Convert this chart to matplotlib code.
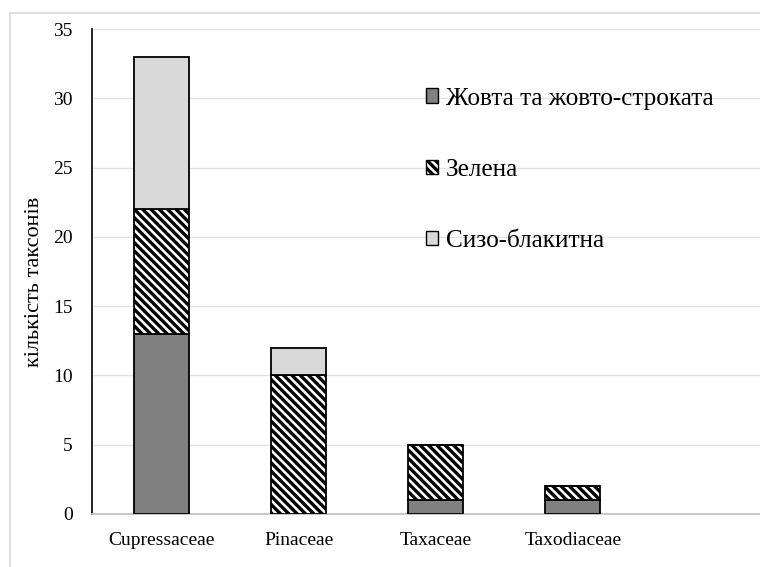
import numpy as np
import matplotlib
matplotlib.use("Agg")
import matplotlib.pyplot as plt
from matplotlib.patches import Rectangle

plt.rcParams['font.family'] = ['Liberation Serif', 'DejaVu Serif']
plt.rcParams['hatch.linewidth'] = 2.4

# дані
families = ["Cupressaceae", "Pinaceae", "Taxaceae", "Taxodiaceae"]
yellow = [13, 0, 1, 1]
green = [9, 10, 4, 1]
blue = [11, 2, 0, 0]
labels = ["Жовта та жовто-строката", "Зелена", "Сизо-блакитна"]

W, H = 760, 567
fig = plt.figure(figsize=(W / 100, H / 100), dpi=100)

# рамка області діаграми
fig.patches.append(Rectangle((10 / W, -0.1), 1.2, 1 - 13 / H + 0.1,
                             transform=fig.transFigure, fill=False,
                             edgecolor='#d9d9d9', linewidth=1.2))

left, bottom, top = 92, 567 - 514, 567 - 29
ax = fig.add_axes([left / W, bottom / H, (W - left) / W, (top - bottom) / H])

x = np.arange(len(families))
bw = 0.4
yellow_a = np.array(yellow)
green_a = np.array(green)
blue_a = np.array(blue)

ax.bar(x, yellow_a, bw, color='#808080', edgecolor='black', linewidth=1.3,
       label=labels[0], zorder=3)
ax.bar(x, green_a, bw, bottom=yellow_a, color='white', edgecolor='black',
       hatch='\\\\\\\\', linewidth=1.3, label=labels[1], zorder=3)
ax.bar(x, blue_a, bw, bottom=yellow_a + green_a, color='#d9d9d9',
       edgecolor='black', linewidth=1.3, label=labels[2], zorder=3)

ax.set_xlim(-0.51, -0.51 + (W - left) / 137)
ax.set_ylim(0, 35)
ax.set_yticks(range(0, 36, 5))
ax.set_xticks(x)
ax.set_xticklabels(families)
ax.tick_params(axis='both', length=0, labelsize=14)
ax.tick_params(axis='y', pad=14)
ax.tick_params(axis='x', pad=13)
ax.grid(axis='y', color='#e3e3e3', linewidth=1, zorder=0)

for s in ['top', 'right']:
    ax.spines[s].set_visible(False)
ax.spines['left'].set_color('black')
ax.spines['left'].set_linewidth(1.2)
ax.spines['bottom'].set_color('#bfbfbf')
ax.spines['bottom'].set_linewidth(1.2)

fig.text(35 / W, 1 - 282 / H, "кількість таксонів", rotation=90,
         ha='center', va='center', fontsize=16)

leg = ax.legend(loc='upper left', bbox_to_anchor=(413 / W, 1 - 75 / H),
                bbox_transform=fig.transFigure, frameon=False,
                fontsize=18.2, handlelength=0.5, handleheight=0.5,
                handletextpad=0.3, labelspacing=1.95, borderpad=0)
for p in leg.get_patches():
    p.set_linewidth(1)

fig.savefig("out.png", dpi=100)
